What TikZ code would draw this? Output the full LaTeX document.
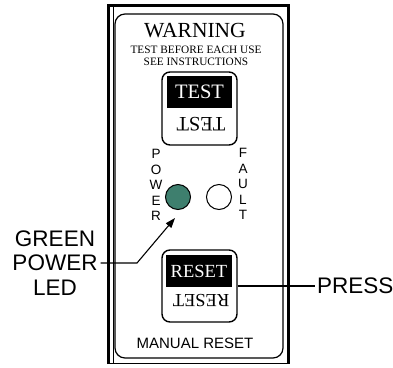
\documentclass[tikz,border=0pt]{standalone}
\usepackage{fontspec}
\setmainfont{Liberation Sans}
\newfontfamily\panelserif{Liberation Serif}
\usetikzlibrary{arrows.meta, positioning}
\definecolor{ledgreen}{HTML}{3E7F6E}
\tikzset{
  panel/.style={draw, line width=1.2pt, rounded corners=10pt},
  button/.style={rectangle, draw, line width=1.4pt, rounded corners=8pt, minimum width=75pt, minimum height=73pt},
  keycap/.style={rectangle, fill=black, text=white, minimum width=65pt, minimum height=32pt, inner sep=0pt},
  keyflip/.style={rotate=180, inner sep=0pt},
  led/.style={circle, draw, line width=1pt, minimum size=25pt, inner sep=0pt},
  ledtext/.style={align=center, inner sep=0pt, font=\fontsize{13.5}{15.6}\selectfont},
  callout/.style={align=center, inner sep=3pt, font=\fontsize{22.5}{24.5}\selectfont},
  leader/.style={line width=1.1pt},
  pointer/.style={leader, -{Triangle[length=10pt, width=7pt]}},
}

\begin{document}
\begin{tikzpicture}[x=1pt, y=-1pt]
  \useasboundingbox (0,0) rectangle (393,367);
  % frame
  \draw[line width=3pt] (108.5,364) |- (288,5.5) -- (288,364);
  \draw[line width=1pt] (107,363.5) -- (289.5,363.5);
  \draw[line width=0.8pt] (113,7) -- (113,363.5);
  \draw[panel] (115,14) rectangle (283,358);
  % heading
  \node[font=\panelserif\fontsize{21.5}{21.5}\selectfont] (warning) at (195,31) {WARNING};
  \node[font=\panelserif\fontsize{11.3}{11.3}\selectfont] (testnote) at (196,50) {TEST BEFORE EACH USE};
  \node[font=\panelserif\fontsize{11.3}{11.3}\selectfont] (seenote) at (196,62) {SEE INSTRUCTIONS};
  % test button
  \node[button] (testbtn) at (199.5,108.5) {};
  \node[keycap, font=\panelserif\fontsize{20.5}{20.5}\selectfont] (testcap) at (199.5,92) {TEST};
  \node[keyflip, font=\panelserif\fontsize{20.5}{20.5}\selectfont] (testflip) at (201,124) {TEST};
  % lamps
  \node[led, fill=ledgreen] (powerled) at (178,197) {};
  \node[led, fill=white] (faultled) at (219,197) {};
  \node[ledtext] (powerlbl) at (156,185) {P\\O\\W\\E\\R};
  \node[ledtext] (faultlbl) at (243,184) {F\\A\\U\\L\\T};
  \coordinate (ledtip) at (175,218);
  \coordinate (ledbend) at (137,263);
  % reset button
  \node[button, minimum height=72pt] (resetbtn) at (199.5,286) {};
  \node[keycap, minimum width=66pt, font=\panelserif\fontsize{18.5}{18.5}\selectfont] (resetcap) at (199,271) {RESET};
  \node[keyflip, font=\panelserif\fontsize{18.5}{18.5}\selectfont] (resetflip) at (201,301) {RESET};
  \node[font=\fontsize{15}{15}\selectfont] (manual) at (195,343) {MANUAL RESET};
  % callouts
  \node[callout] (ledlbl) at (55,263) {GREEN\\POWER\\LED};
  \node[callout, anchor=west, inner sep=2pt] (presslbl) at (315,286) {PRESS};
  \draw[pointer] (ledlbl.east) -- (ledbend) -- (ledtip);
  \draw[leader] (resetbtn.east) -- (presslbl.west);
\end{tikzpicture}
\end{document}
